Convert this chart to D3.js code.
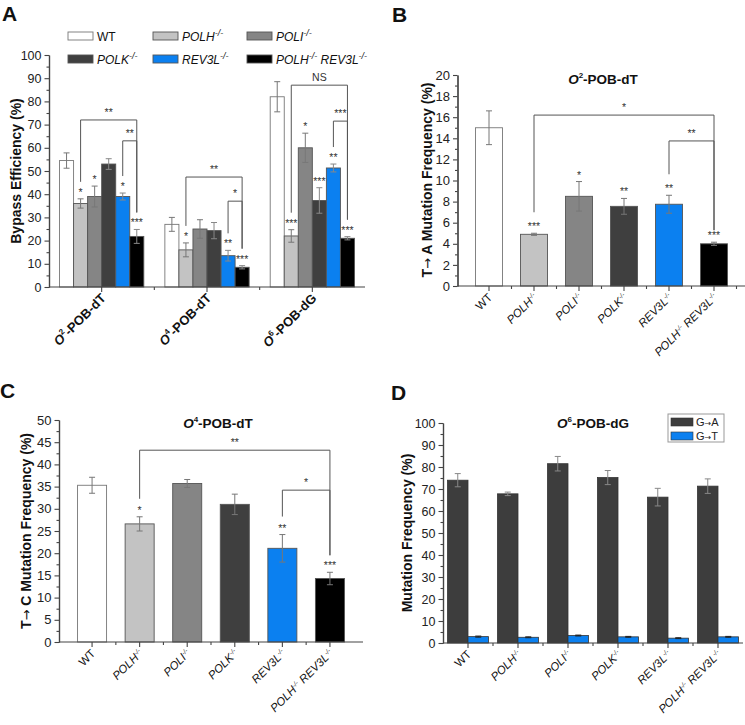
<!DOCTYPE html>
<html><head><meta charset="utf-8">
<script src="https://cdn.jsdelivr.net/npm/d3@7"></script>
<style>body{margin:0;background:#fff} svg{font-family:"Liberation Sans",Arial,sans-serif}</style>
</head><body><svg id="c" width="745" height="725"></svg>
<script>
// ---------- DATA ----------
const genotypes = ["WT","POLH","POLI","POLK","REV3L","POLH REV3L"];
const genotypeColors = ["#ffffff","#c3c3c3","#858585","#3f3f3f","#0b80f0","#000000"];
const adductSup = ["2","4","6"];
const adductRest = ["-POB-dT","-POB-dT","-POB-dG"];

// Panel A: bypass efficiency (%)
const bypassO2 = [54.5,36,39,53,39,21.8];
const bypassO2Err = [3.3,2,4.5,2.3,1.5,3];
const bypassO4 = [27,16,25,24.3,13.5,8.5];
const bypassO4Err = [3,3,4,3.5,2.3,0.7];
const bypassO6 = [82,22,60,37.3,51.3,21];
const bypassO6Err = [6.5,2.7,6.3,5.5,1.7,0.7];
const starsA = [["","*","*","","*","***"],["","*","","","**","***"],["","***","*","***","**","***"]];
const bracketsA = [
  {g:0,a:1,b:5,level:72,label:"**"},{g:0,a:4,b:5,level:63,label:"**"},
  {g:1,a:1,b:5,level:47.4,label:"**"},{g:1,a:4,b:5,level:37,label:"*"},
  {g:2,a:1,b:5,level:87,label:"NS"},{g:2,a:4,b:5,level:71.5,label:"***"}];

// Panel B: T->A mutation frequency (%) O2-POB-dT
const tToA = [15,4.9,8.5,7.55,7.75,4.0];
const tToAErr = [1.6,0.1,1.4,0.75,0.85,0.15];
const starsB = ["","***","*","**","**","***"];
const bracketsB = [{a:1,b:5,level:16.2,label:"*"},{a:4,b:5,level:13.75,label:"**"}];

// Panel C: T->C mutation frequency (%) O4-POB-dT
const tToC = [35.3,26.6,35.7,31,21.1,14.3];
const tToCErr = [1.8,1.6,0.9,2.3,3.1,1.4];
const starsC = ["","*","","","**","***"];
const bracketsC = [{a:1,b:5,level:43.2,label:"**"},{a:4,b:5,level:34.2,label:"*"}];

// Panel D: O6-POB-dG mutation frequency (%)
const mutFrom = ["G","G"], mutTo = ["A","T"];
const mutTypes = ["G\u2192A","G\u2192T"];
const mutColors = ["#3d3d3d","#0b80f0"];
const gToA = [74,67.8,81.5,75.2,66.3,71.3];
const gToAErr = [3,0.8,3.3,3.2,4,3.3];
const gToT = [2.9,2.6,3.4,2.8,2.2,2.8];
const gToTErr = [0.25,0.2,0.2,0.2,0.2,0.2];

// ---------- HELPERS ----------
const svg = d3.select("#c");
const AX = "#444";

function styleAxis(g){
  g.select(".domain").attr("stroke",AX).attr("stroke-width",1.2);
  g.selectAll(".tick line").attr("stroke",AX).attr("stroke-width",1.1);
  g.selectAll(".tick text").attr("fill","#222");
}
function yAxis(x0, y, major, minor, fs){
  const g = svg.append("g").attr("transform",`translate(${x0},0)`);
  g.call(d3.axisLeft(y).tickValues(minor).tickSize(2.5).tickSizeOuter(0).tickFormat(""));
  styleAxis(g);
  const g2 = svg.append("g").attr("transform",`translate(${x0},0)`);
  g2.call(d3.axisLeft(y).tickValues(major).tickSize(4.5).tickSizeOuter(0).tickPadding(3));
  g2.attr("font-size",fs).attr("font-family","Liberation Sans, Arial, sans-serif");
  styleAxis(g2);
}
function xAxisLine(y0, x0, x1, majors, minors){
  const g = svg.append("g");
  g.append("line").attr("x1",x0).attr("x2",x1).attr("y1",y0).attr("y2",y0).attr("stroke",AX).attr("stroke-width",1.2);
  majors.forEach(x=>g.append("line").attr("x1",x).attr("x2",x).attr("y1",y0).attr("y2",y0+5).attr("stroke",AX).attr("stroke-width",1.1));
  minors.forEach(x=>g.append("line").attr("x1",x).attr("x2",x).attr("y1",y0).attr("y2",y0+3).attr("stroke",AX).attr("stroke-width",1.1));
}
function addGeno(t, name, supSize, shift){
  if(name==="WT"){ t.append("tspan").text("WT"); return; }
  const parts = name.split(" ");
  parts.forEach((p,k)=>{
    if(k>0) t.append("tspan").attr("dy",shift).text(" ");
    t.append("tspan").attr("font-style","italic").text(p);
    t.append("tspan").attr("font-style","italic").attr("font-size",supSize).attr("dy",-shift).text("-/-");
  });
}
function yLabel(x, yc, pre, rest){
  const t = svg.append("text").attr("transform",`translate(${x},${yc}) rotate(-90)`)
    .attr("text-anchor","middle").attr("font-size",14).attr("font-weight","bold").attr("fill","#111");
  if(pre){
    t.append("tspan").text(pre);
    t.append("tspan").attr("font-family","DejaVu Sans").attr("font-weight","normal").attr("font-size",13).text("\u2192");
    t.append("tspan").text(rest);
  } else t.text(rest);
}
function title(x, y, sup, rest){
  const t = svg.append("text").attr("x",x).attr("y",y).attr("text-anchor","middle")
    .attr("font-size",13.5).attr("font-weight","bold").attr("fill","#111");
  t.append("tspan").attr("font-style","italic").text("O");
  t.append("tspan").attr("font-size",8).attr("dy",-6).text(sup);
  t.append("tspan").attr("dy",6).text(rest);
}
function panelLetter(x,y,l){
  svg.append("text").attr("x",x).attr("y",y).attr("font-size",21).attr("font-weight","bold").attr("fill","#111").text(l);
}
function errBar(g, cx, y, v, e, cap, col){
  g.append("line").attr("x1",cx).attr("x2",cx).attr("y1",y(v-e)).attr("y2",y(v+e)).attr("stroke",col).attr("stroke-width",1);
  [v-e,v+e].forEach(w=>g.append("line").attr("x1",cx-cap/2).attr("x2",cx+cap/2).attr("y1",y(w)).attr("y2",y(w)).attr("stroke",col).attr("stroke-width",1));
}
const annot = svg.append("g");
function star(cx, yTop, s){
  if(!s) return;
  annot.append("text").attr("x",cx).attr("y",yTop-3).attr("text-anchor","middle")
    .attr("font-size",10.5).attr("fill","#333").text(s);
}
function bracket(xa, xb, ya, yb, yl, label){
  annot.append("path").attr("d",`M${xa},${ya}V${yl}H${xb}V${yb}`).attr("fill","none").attr("stroke","#555").attr("stroke-width",1);
  annot.append("text").attr("x",(xa+xb)/2).attr("y",yl-4).attr("text-anchor","middle")
    .attr("font-size",10.5).attr("fill","#333").text(label);
}

// ---------- PANEL A ----------
panelLetter(2,21,"A");
const bypass = [bypassO2,bypassO4,bypassO6];
const bypassErr = [bypassO2Err,bypassO4Err,bypassO6Err];
const xA = d3.scaleBand().domain(d3.range(3)).range([49,365]);
const xA1 = d3.scaleBand().domain(genotypes).range([xA.bandwidth()*0.1, xA.bandwidth()*0.9]);
const yA = d3.scaleLinear().domain([0,100]).range([287,55]);
yAxis(49, yA, d3.range(0,101,10), d3.range(5,100,10), 12.5);
const gA = svg.append("g");
bypass.forEach((vals,g)=>{
  vals.forEach((v,i)=>{
    gA.append("rect").attr("x",xA(g)+xA1(genotypes[i])).attr("width",xA1.bandwidth())
      .attr("y",yA(v)).attr("height",yA(0)-yA(v)).attr("fill",genotypeColors[i])
      .attr("stroke",i===0?"#777":"#555").attr("stroke-width",0.9);
  });
});
bypass.forEach((vals,g)=>{
  vals.forEach((v,i)=>{
    const cx = xA(g)+xA1(genotypes[i])+xA1.bandwidth()/2;
    errBar(gA,cx,yA,v,bypassErr[g][i],6,i>=3?"#888":"#777");
    star(cx, yA(v+bypassErr[g][i]), starsA[g][i]);
  });
});
xAxisLine(287,49,365, xA.domain().map(g=>xA(g)+xA.bandwidth()/2), [xA(1),xA(2)]);
bracketsA.forEach(b=>{
  const cA = xA(b.g)+xA1(genotypes[b.a])+xA1.bandwidth()/2;
  const cB = xA(b.g)+xA1(genotypes[b.b])+xA1.bandwidth()/2;
  const ta = yA(bypass[b.g][b.a]+bypassErr[b.g][b.a])-17;
  const tb = yA(bypass[b.g][b.b]+bypassErr[b.g][b.b])-17;
  bracket(cA,cB,ta,tb,yA(b.level),b.label);
});
adductSup.forEach((s,g)=>{
  const cx = xA(g)+xA.bandwidth()/2;
  const t = svg.append("text").attr("transform",`translate(${cx+5},${299}) rotate(-45)`)
    .attr("text-anchor","end").attr("font-size",13).attr("font-weight","bold").attr("fill","#111");
  t.append("tspan").attr("font-style","italic").text("O");
  t.append("tspan").attr("font-size",8).attr("dy",-6).text(s);
  t.append("tspan").attr("dy",6).text(adductRest[g]);
});
yLabel(21,171,null,"Bypass Efficiency (%)");
// legend A
const legCols = [68,153,247], legRows = [32,55];
genotypes.forEach((gname,i)=>{
  const cx = legCols[i%3], cy = legRows[Math.floor(i/3)];
  svg.append("rect").attr("x",cx).attr("y",cy).attr("width",25).attr("height",8)
    .attr("fill",genotypeColors[i]).attr("stroke",i===0?"#777":"#555").attr("stroke-width",0.9);
  const t = svg.append("text").attr("x",cx+29).attr("y",cy+8.5).attr("font-size",12).attr("fill","#111");
  addGeno(t,gname,9,5);
});

// ---------- PANEL B ----------
panelLetter(392,22,"B");
const xB = d3.scaleBand().domain(genotypes).range([457.5,745.5]).padding(0.4);
const yB = d3.scaleLinear().domain([0,20]).range([286,75]);
yAxis(457.5, yB, d3.range(0,21,2), d3.range(1,20,2), 13);
genotypes.forEach((gname,i)=>{
  svg.append("rect").attr("x",xB(gname)).attr("width",xB.bandwidth()).attr("y",yB(tToA[i]))
    .attr("height",yB(0)-yB(tToA[i])).attr("fill",genotypeColors[i]).attr("stroke",i===0?"#777":"#555").attr("stroke-width",0.9);
});
genotypes.forEach((gname,i)=>{
  const cx = xB(gname)+xB.bandwidth()/2;
  errBar(svg,cx,yB,tToA[i],tToAErr[i],6,"#777");
  star(cx,yB(tToA[i]+tToAErr[i]),starsB[i]);
});
xAxisLine(286,457.5,745, genotypes.map(gn=>xB(gn)+xB.bandwidth()/2), genotypes.map(gn=>xB(gn)-xB.step()*xB.paddingInner()/2+xB.step()));
bracketsB.forEach(b=>{
  const cA = xB(genotypes[b.a])+xB.bandwidth()/2, cB = xB(genotypes[b.b])+xB.bandwidth()/2;
  bracket(cA,cB,yB(tToA[b.a]+tToAErr[b.a])-21,yB(tToA[b.b]+tToAErr[b.b])-12,yB(b.level),b.label);
});
title(603,84,"2","-POB-dT");
yLabel(432,180,"T"," A Mutation Frequency (%)");
genotypes.forEach((gname,i)=>{
  const cx = xB(gname)+xB.bandwidth()/2;
  const t = svg.append("text").attr("transform",`translate(${cx+4},${298}) rotate(-45)`)
    .attr("text-anchor","end").attr("font-size",11.5).attr("fill","#111");
  addGeno(t,gname,6.5,4);
});

// ---------- PANEL C ----------
panelLetter(0,398,"C");
const xC = d3.scaleBand().domain(genotypes).range([59,363]).padding(0.39);
const yC = d3.scaleLinear().domain([0,50]).range([642,420]);
yAxis(59, yC, d3.range(0,51,5), d3.range(2.5,50,5), 13);
genotypes.forEach((gname,i)=>{
  svg.append("rect").attr("x",xC(gname)).attr("width",xC.bandwidth()).attr("y",yC(tToC[i]))
    .attr("height",yC(0)-yC(tToC[i])).attr("fill",genotypeColors[i]).attr("stroke",i===0?"#777":"#555").attr("stroke-width",0.9);
});
genotypes.forEach((gname,i)=>{
  const cx = xC(gname)+xC.bandwidth()/2;
  errBar(svg,cx,yC,tToC[i],tToCErr[i],6,"#777");
  star(cx,yC(tToC[i]+tToCErr[i]),starsC[i]);
});
xAxisLine(642,59,363, genotypes.map(gn=>xC(gn)+xC.bandwidth()/2), genotypes.slice(0,5).map(gn=>xC(gn)+xC.bandwidth()/2+xC.step()/2));
bracketsC.forEach(b=>{
  const cA = xC(genotypes[b.a])+xC.bandwidth()/2, cB = xC(genotypes[b.b])+xC.bandwidth()/2;
  bracket(cA,cB,yC(tToC[b.a]+tToCErr[b.a])-18,yC(tToC[b.b]+tToCErr[b.b])-17,yC(b.level),b.label);
});
title(218,428,"4","-POB-dT");
yLabel(31,531,"T"," C Mutation Frequency (%)");
genotypes.forEach((gname,i)=>{
  const cx = xC(gname)+xC.bandwidth()/2;
  const t = svg.append("text").attr("transform",`translate(${cx+4},${654}) rotate(-45)`)
    .attr("text-anchor","end").attr("font-size",11.5).attr("fill","#111");
  addGeno(t,gname,6.5,4);
});

// ---------- PANEL D ----------
panelLetter(391,400,"D");
const xD = d3.scaleBand().domain(genotypes).range([443,743]);
const xD1 = d3.scaleBand().domain(mutTypes).range([xD.bandwidth()*0.09, xD.bandwidth()*0.91]);
const yD = d3.scaleLinear().domain([0,100]).range([643,423]);
yAxis(443, yD, d3.range(0,101,10), d3.range(5,100,10), 12.5);
const dSeries = [gToA,gToT], dErr = [gToAErr,gToTErr];
genotypes.forEach((gname,i)=>{
  mutTypes.forEach((m,k)=>{
    const v = dSeries[k][i];
    svg.append("rect").attr("x",xD(gname)+xD1(m)).attr("width",xD1.bandwidth()).attr("y",yD(v))
      .attr("height",yD(0)-yD(v)).attr("fill",mutColors[k]).attr("stroke","#333").attr("stroke-width",0.8);
  });
});
genotypes.forEach((gname,i)=>{
  mutTypes.forEach((m,k)=>{
    const cx = xD(gname)+xD1(m)+xD1.bandwidth()/2;
    errBar(svg,cx,yD,dSeries[k][i],dErr[k][i],6,k===0?"#888":"#222");
  });
});
xAxisLine(643,443,743, genotypes.map(gn=>xD(gn)+xD.bandwidth()/2), genotypes.slice(1).map(gn=>xD(gn)));
title(593,428,"6","-POB-dG");
yLabel(412,533,null,"Mutation Frequency (%)");
genotypes.forEach((gname,i)=>{
  const cx = xD(gname)+xD.bandwidth()/2;
  const t = svg.append("text").attr("transform",`translate(${cx+4},${655}) rotate(-45)`)
    .attr("text-anchor","end").attr("font-size",11.5).attr("fill","#111");
  addGeno(t,gname,6.5,4);
});
// legend D
svg.append("rect").attr("x",668).attr("y",414).attr("width",56).attr("height",28).attr("fill","#fff").attr("stroke","#999").attr("stroke-width",1);
mutTypes.forEach((m,k)=>{
  svg.append("rect").attr("x",671).attr("y",418+k*14).attr("width",22).attr("height",8).attr("fill",mutColors[k]).attr("stroke","#333").attr("stroke-width",0.6);
  const t = svg.append("text").attr("x",696).attr("y",426+k*14).attr("font-size",11).attr("fill","#222");
  t.append("tspan").text(mutFrom[k]);
  t.append("tspan").attr("font-family","DejaVu Sans").attr("font-size",8).text("\u2192");
  t.append("tspan").text(mutTo[k]);
});
</script></body></html>
